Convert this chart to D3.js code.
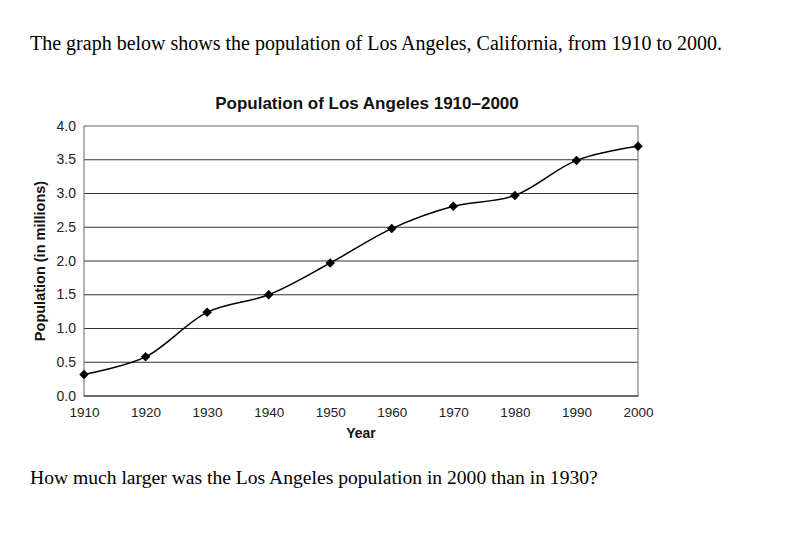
<!DOCTYPE html>
<html lang="en">
<head>
  <meta charset="UTF-8" />
  <title>Population of Los Angeles 1910–2000</title>
  <script src="https://d3js.org/d3.v7.min.js"></script>
  <style>
    body {
      margin: 0;
      background: #fff;
    }
    svg {
      display: block;
    }
    .serif {
      font-family: 'Liberation Serif', 'Times New Roman', serif;
      font-size: 20px;
      fill: #000;
    }
    .sans {
      font-family: 'Liberation Sans', Arial, Helvetica, sans-serif;
      fill: #111;
    }
  </style>
</head>
<body>
  <div id="chart"></div>

  <script>
    // data (population in millions)
    const years = [1910, 1920, 1930, 1940, 1950, 1960, 1970, 1980, 1990, 2000];
    const population = [0.32, 0.58, 1.24, 1.50, 1.97, 2.48, 2.81, 2.97, 3.49, 3.70];
    const yTicks = [0, 0.5, 1, 1.5, 2, 2.5, 3, 3.5, 4];

    const width = 808;
    const height = 551;
    const plot = { left: 84, right: 638, top: 126, bottom: 396 };

    const svg = d3.select("#chart").append("svg")
      .attr("width", width)
      .attr("height", height);

    // question text
    svg.append("text")
      .attr("class", "serif")
      .attr("x", 30)
      .attr("y", 50)
      .text("The graph below shows the population of Los Angeles, California, from 1910 to 2000.");

    svg.append("text")
      .attr("class", "serif")
      .attr("x", 30)
      .attr("y", 484)
      .style("font-size", "19.6px")
      .text("How much larger was the Los Angeles population in 2000 than in 1930?");

    const x = d3.scaleLinear()
      .domain([1910, 2000])
      .range([plot.left, plot.right]);

    const y = d3.scaleLinear()
      .domain([0, 4])
      .range([plot.bottom, plot.top]);

    // horizontal grid lines
    svg.append("g")
      .selectAll("line")
      .data(yTicks.slice(1, -1))
      .enter().append("line")
      .attr("x1", plot.left)
      .attr("x2", plot.right)
      .attr("y1", d => y(d))
      .attr("y2", d => y(d))
      .attr("stroke", "#333")
      .attr("stroke-width", 1);

    // plot frame
    svg.append("rect")
      .attr("x", plot.left)
      .attr("y", plot.top)
      .attr("width", plot.right - plot.left)
      .attr("height", plot.bottom - plot.top)
      .attr("fill", "none")
      .attr("stroke", "#666")
      .attr("stroke-width", 1);

    svg.append("line")
      .attr("x1", plot.left)
      .attr("x2", plot.right)
      .attr("y1", plot.bottom)
      .attr("y2", plot.bottom)
      .attr("stroke", "#222")
      .attr("stroke-width", 1.2);

    // axes (labels only, no tick marks)
    const yAxis = svg.append("g")
      .attr("transform", `translate(${plot.left},0)`)
      .call(d3.axisLeft(y).tickValues(yTicks).tickFormat(d3.format(".1f")).tickSize(0).tickPadding(8));
    yAxis.select(".domain").remove();
    yAxis.selectAll(".tick text")
      .attr("dy", "0.3em")
      .style("font-family", "'Liberation Sans', Arial, sans-serif")
      .style("font-size", "14px")
      .style("fill", "#222");

    const xAxis = svg.append("g")
      .attr("transform", `translate(0,${plot.bottom})`)
      .call(d3.axisBottom(x).tickValues(years).tickFormat(d3.format("d")).tickSize(0).tickPadding(11));
    xAxis.select(".domain").remove();
    xAxis.selectAll(".tick text")
      .style("font-family", "'Liberation Sans', Arial, sans-serif")
      .style("font-size", "13.5px")
      .style("fill", "#222");

    // titles
    svg.append("text")
      .attr("class", "sans")
      .attr("x", 367)
      .attr("y", 109)
      .attr("text-anchor", "middle")
      .style("font-size", "17px")
      .style("font-weight", "bold")
      .text("Population of Los Angeles 1910–2000");

    svg.append("text")
      .attr("class", "sans")
      .attr("x", 361)
      .attr("y", 438)
      .attr("text-anchor", "middle")
      .style("font-size", "14px")
      .style("font-weight", "bold")
      .text("Year");

    svg.append("text")
      .attr("class", "sans")
      .attr("transform", `translate(45,${(plot.top + plot.bottom) / 2}) rotate(-90)`)
      .attr("text-anchor", "middle")
      .style("font-size", "14.5px")
      .style("font-weight", "bold")
      .text("Population (in millions)");

    // smoothed line
    const points = years.map((yr, i) => [yr, population[i]]);

    const line = d3.line()
      .x(d => x(d[0]))
      .y(d => y(d[1]))
      .curve(d3.curveCatmullRom.alpha(0.5));

    svg.append("path")
      .datum(points)
      .attr("d", line)
      .attr("fill", "none")
      .attr("stroke", "#000")
      .attr("stroke-width", 1.5);

    // diamond markers
    svg.append("g")
      .selectAll("path")
      .data(points)
      .enter().append("path")
      .attr("transform", d => `translate(${x(d[0])},${y(d[1])}) rotate(45)`)
      .attr("d", d3.symbol().type(d3.symbolSquare).size(45))
      .attr("fill", "#000");
  </script>
</body>
</html>
